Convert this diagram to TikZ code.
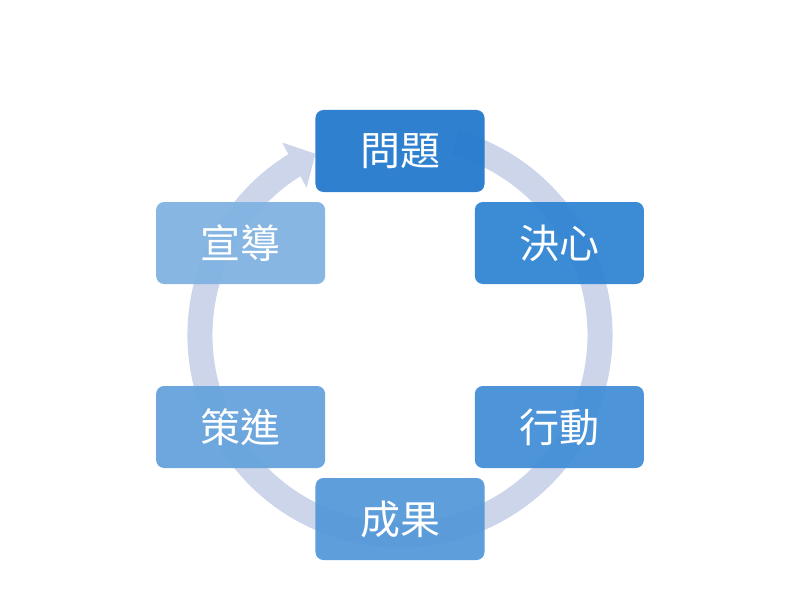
\documentclass[tikz,border=0pt]{standalone}
\usepackage{fontspec}
\newfontfamily\cjk{Noto Sans CJK TC}
\usetikzlibrary{arrows.meta,bending}

\definecolor{ringcol}{HTML}{CDD5EA}
\definecolor{box0}{HTML}{2479CE}
\definecolor{box1}{HTML}{3084D3}
\definecolor{box2}{HTML}{428ED6}
\definecolor{box3}{HTML}{5498D8}
\definecolor{box4}{HTML}{64A2DC}
\definecolor{box5}{HTML}{80B2E2}

\def\rring{200}
\def\rbox{184}

\begin{document}
\begin{tikzpicture}[x=1pt, y=1pt, line cap=butt,
                    stage/.style={rounded corners=8pt, minimum width=169pt,
                                  minimum height=82pt, inner sep=0pt,
                                  text=white, fill opacity=0.94, text opacity=1,
                                  font=\cjk\fontsize{40}{40}\selectfont}
                   ]
\fill [white] (-400,-265) rectangle (400,335);
\useasboundingbox (-400,-265) rectangle (400,335);

% ring with arrow head at the top left
\draw [ringcol, line width=25pt, -{Triangle[width=50pt,length=24pt]}]
      (74:\rring) arc (74:-245:\rring);

\foreach \name/\lbl/\ang [count=\k from 0] in
        {wenti/問題/90, juexin/決心/30, xingdong/行動/-30,
         chengguo/成果/-90, cejin/策進/-150, xuandao/宣導/150}{
    \node [stage, fill=box\k] (\name) at (\ang:\rbox) {\lbl};
  }
\end{tikzpicture}
\end{document}
